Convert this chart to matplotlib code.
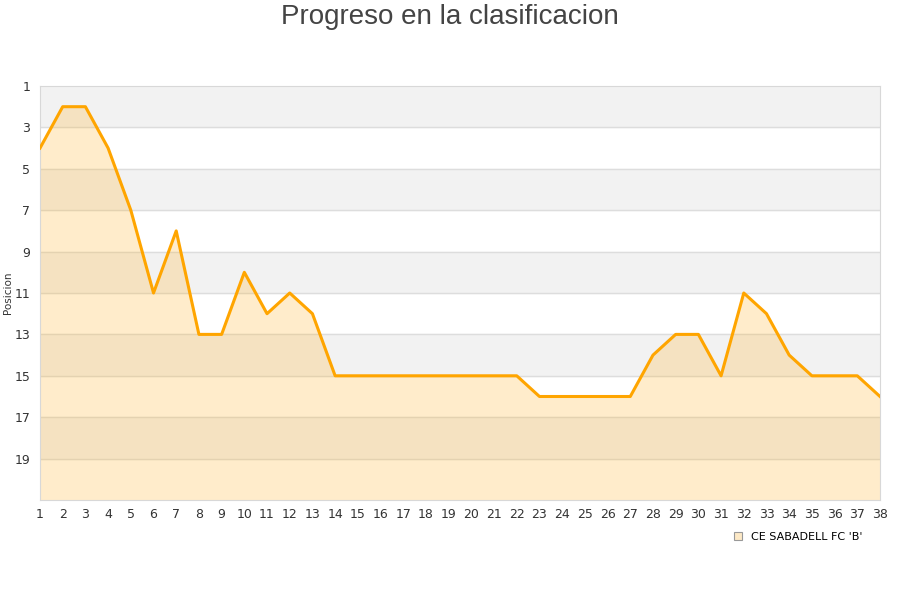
import matplotlib.pyplot as plt
from matplotlib.patches import Patch

jornadas = list(range(1, 39))
posiciones = [4, 2, 2, 4, 7, 11, 8, 13, 13, 10, 12, 11, 12, 15, 15, 15, 15, 15, 15, 15,
              15, 15, 16, 16, 16, 16, 16, 14, 13, 13, 15, 11, 12, 14, 15, 15, 15, 16]
equipo = "CE SABADELL FC 'B'"

fig = plt.figure(figsize=(9, 6), dpi=100)
ax = fig.add_axes([40 / 900, 100 / 600, 840 / 900, 414 / 600])

# bandas alternas gris / blanco
for inicio in range(1, 21, 4):
    ax.axhspan(inicio, inicio + 2, color='#f2f2f2', zorder=0)
for y in range(3, 21, 2):
    ax.axhline(y, color='#dddddd', lw=1, zorder=1)

ax.fill_between(jornadas, posiciones, 21, color='#ffb121', alpha=0.23, lw=0, zorder=2)
ax.plot(jornadas, posiciones, color='#ffa500', lw=2.2, zorder=3)

ax.set_xlim(1, 38)
ax.set_ylim(21, 1)
ax.set_xticks(jornadas)
ax.set_yticks(range(1, 21, 2))
ax.tick_params(length=0, labelsize=9, colors='#333333')
ax.tick_params(axis='y', pad=7)
ax.tick_params(axis='x', pad=6)
for lado in ax.spines.values():
    lado.set_color('#d8d8d8')
ax.set_ylabel('Posicion', fontsize=7.5, color='#333333')
ax.yaxis.set_label_coords(-0.032, 0.5)

fig.text(0.5, 0.972, 'Progreso en la clasificacion', ha='center', va='center',
         fontsize=20, color='#444444', family='Liberation Sans')

fig.legend(handles=[Patch(facecolor='#fde9c6', edgecolor='#999999', lw=0.8, label=equipo)],
           loc='center left', bbox_to_anchor=(0.804, 0.105), frameon=False,
           fontsize=8, handlelength=0.8, handleheight=0.8, handletextpad=0.8)

fig.savefig('out.png')
